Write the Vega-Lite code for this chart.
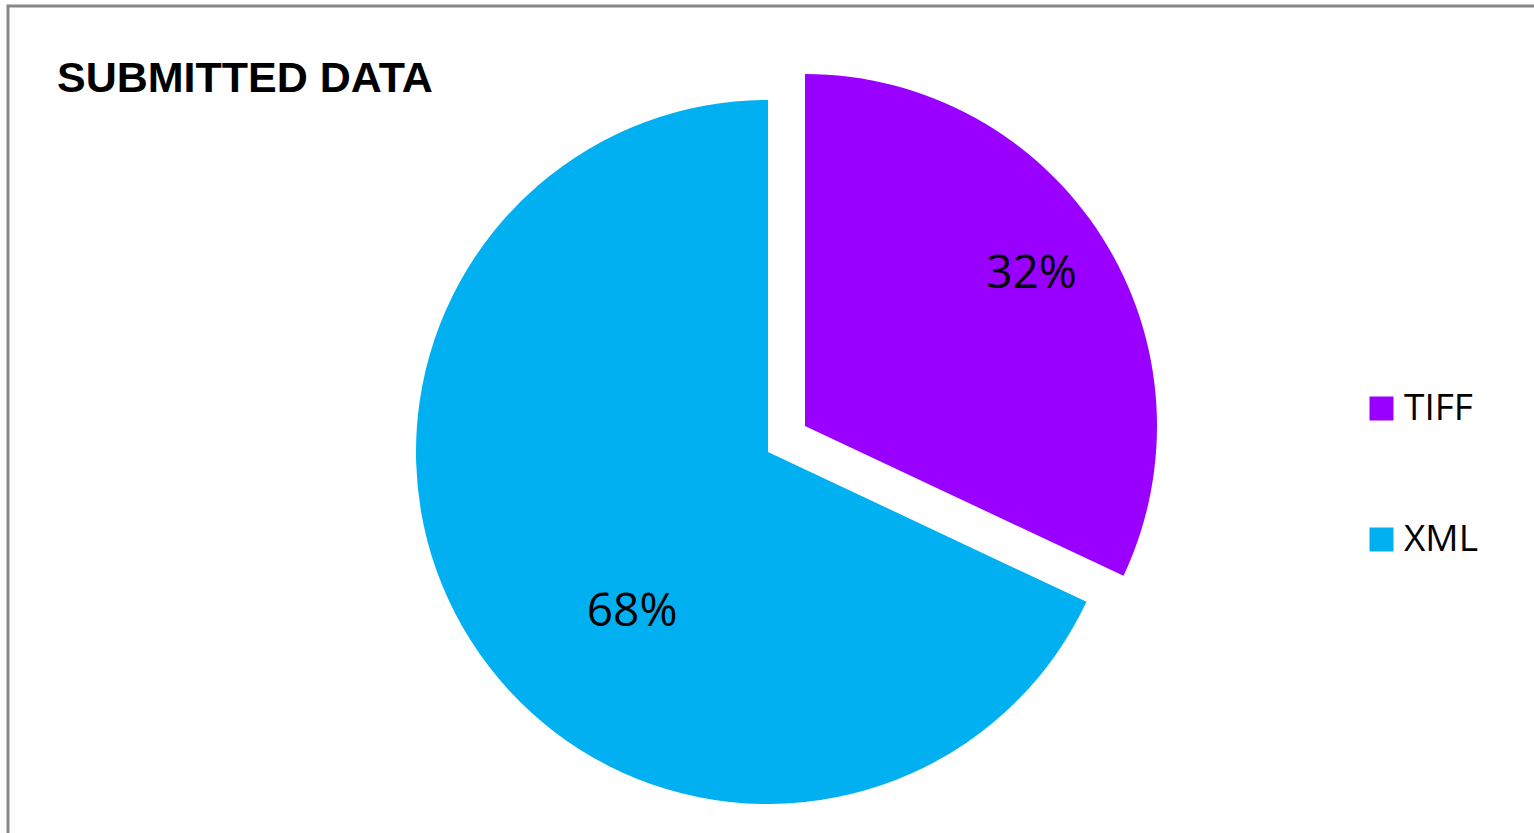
{
  "$schema": "https://vega.github.io/schema/vega-lite/v6.json",
  "autosize": {"type": "none"},
  "padding": {"left": 8, "top": 6, "right": -3, "bottom": -3},
  "width": 1529,
  "height": 830,
  "background": "white",
  "view": {"stroke": "#888888", "strokeWidth": 3},
  "config": {
    "view": {"stroke": "#888888", "strokeWidth": 3},
    "style": {"view": {"stroke": "#888888", "strokeWidth": 3}}
  },
  "title": {
    "text": "SUBMITTED DATA",
    "anchor": "start",
    "frame": "group",
    "orient": "top",
    "font": "Liberation Sans",
    "fontSize": 43,
    "fontWeight": "bold",
    "color": "black",
    "baseline": "alphabetic",
    "offset": 0,
    "dx": 49,
    "dy": 129
  },
  "data": {
    "values": [
      {"format": "TIFF", "value": 32, "label": "32%"},
      {"format": "XML", "value": 68, "label": "68%"}
    ]
  },
  "encoding": {
    "theta": {"field": "value", "type": "quantitative", "stack": true, "scale": {"domain": [0, 100]}},
    "order": {"field": "format", "sort": "ascending"}
  },
  "layer": [
    {
      "mark": {"type": "arc", "radius": 352, "xOffset": -4.5, "yOffset": 31, "stroke": null},
      "encoding": {
        "color": {
          "field": "format", "type": "nominal",
          "scale": {"domain": ["TIFF", "XML"], "range": ["#9900FF", "#00B0F0"]},
          "legend": {
            "title": null,
            "orient": "none",
            "legendX": 1355,
            "legendY": 384,
            "symbolType": "square",
            "symbolSize": 576,
            "symbolStrokeWidth": 0,
            "labelFont": "Open Sans",
            "labelFontSize": 37,
            "labelColor": "black",
            "labelOffset": 4,
            "rowPadding": 93,
            "padding": 0
          }
        },
        "opacity": {"condition": {"test": "datum.format === 'XML'", "value": 1}, "value": 0}
      }
    },
    {
      "mark": {"type": "arc", "radius": 352, "xOffset": 32.5, "yOffset": 5, "stroke": null},
      "encoding": {
        "color": {"field": "format", "type": "nominal"},
        "opacity": {"condition": {"test": "datum.format === 'TIFF'", "value": 1}, "value": 0}
      }
    },
    {
      "mark": {"type": "text", "radius": 273, "xOffset": 32.5, "yOffset": 5, "dx": -4, "dy": -6, "font": "Open Sans", "fontSize": 46, "color": "black", "align": "center", "baseline": "middle"},
      "encoding": {
        "text": {"condition": {"test": "datum.format === 'TIFF'", "field": "label"}, "value": ""}
      }
    },
    {
      "mark": {"type": "text", "radius": 200, "xOffset": -4.5, "yOffset": 31, "dx": 33, "dy": 53, "font": "Open Sans", "fontSize": 46, "color": "black", "align": "center", "baseline": "middle"},
      "encoding": {
        "text": {"condition": {"test": "datum.format === 'XML'", "field": "label"}, "value": ""}
      }
    }
  ]
}
